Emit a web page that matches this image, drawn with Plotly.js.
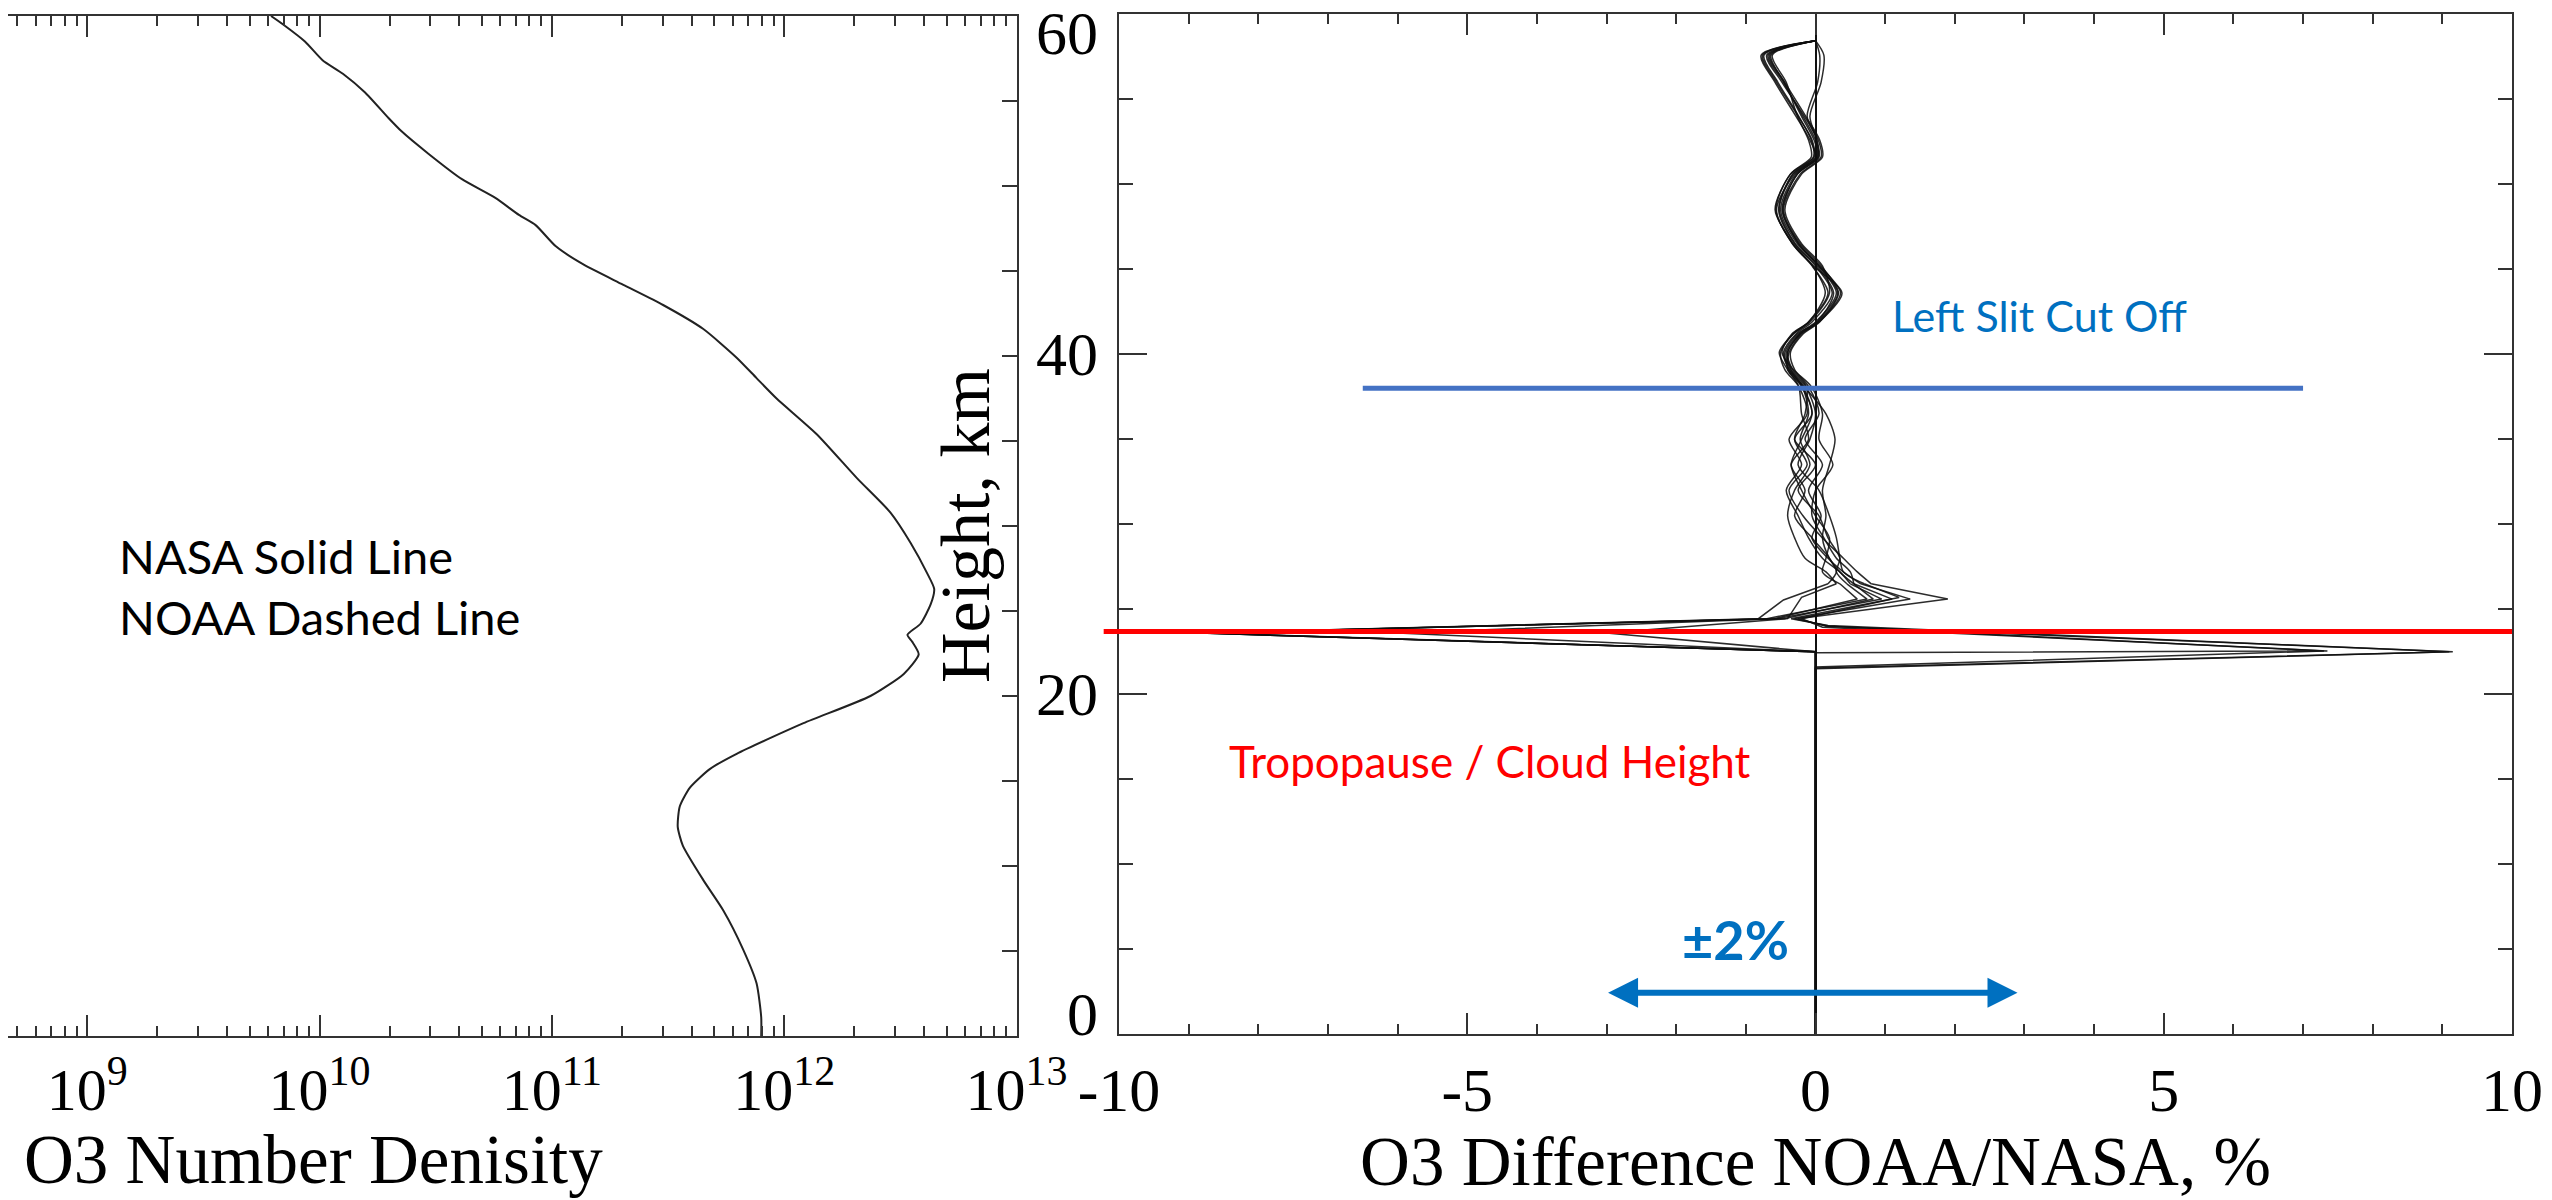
<!DOCTYPE html>
<html><head><meta charset="utf-8">
<script src="https://cdn.plot.ly/plotly-3.0.1.min.js"></script>
<style>html,body{margin:0;padding:0;background:#fff;} #chart{width:2552px;height:1200px;}</style>
</head><body><div id="chart"></div>
<script>
// ---------- Left panel: O3 number density profile (NASA) ----------
const nasaHeightKm = [0.0, 1.1, 3.1, 5.1, 7.4, 9.2, 11.2, 12.3, 13.5, 14.6, 15.7, 16.6, 18.4, 20.0, 21.3, 22.45, 23.2, 23.6, 24.25, 25.4, 26.3, 27.2, 29.0, 30.8, 32.8, 35.4, 37.5, 38.7, 39.9, 41.6, 43.0, 44.2, 45.4, 46.45, 47.7, 48.3, 49.3, 50.4, 51.9, 53.2, 54.0, 55.5, 56.6, 57.4, 58.5, 59.5, 60.0];
const nasaDensity = [7.96e11, 7.96e11, 7.60e11, 6.65e11, 5.46e11, 4.47e11, 3.66e11, 3.48e11, 3.55e11, 3.92e11, 4.78e11, 6.24e11, 1.21e12, 2.35e12, 3.27e12, 3.79e12, 3.55e12, 3.39e12, 3.86e12, 4.27e12, 4.42e12, 4.13e12, 3.50e12, 2.86e12, 2.06e12, 1.38e12, 9.27e11, 7.60e11, 6.24e11, 4.47e11, 3.01e11, 2.02e11, 1.36e11, 1.04e11, 8.51e10, 7.21e10, 5.71e10, 4.10e10, 2.94e10, 2.26e10, 1.98e10, 1.57e10, 1.26e10, 1.03e10, 8.65e9, 6.97e9, 6.18e9];

// ---------- Right panel: O3 difference NOAA/NASA (%) for several runs ----------
const diffUpperKm = [58.45, 57.6, 56.0, 54.0, 52.6, 51.6, 50.6, 48.5, 46.5, 45.2, 43.6, 41.9, 41.2, 40.1, 39.1, 38.1, 36.5, 35.0, 33.5, 32.0, 30.5, 29.2, 28.0, 27.2];
const runUpperPct = [
  [0, -0.78, -0.58, -0.28, -0.08, 0.00, -0.30, -0.56, -0.33, -0.03, 0.38, 0.05, -0.20, -0.38, -0.40, -0.20, -0.05, -0.30, -0.12, -0.38, -0.18, 0.10, 0.40, 0.60],
  [0, -0.70, -0.48, -0.16, 0.04, 0.08, -0.22, -0.46, -0.22, 0.08, 0.33, 0.06, -0.18, -0.36, -0.30, -0.10, 0.05, -0.15, 0.10, -0.10, 0.08, -0.05, 0.18, 0.40],
  [0, -0.66, -0.44, -0.14, 0.06, 0.10, -0.20, -0.44, -0.20, 0.10, 0.20, -0.08, -0.32, -0.50, -0.44, -0.24, -0.12, -0.38, -0.20, -0.42, -0.25, -0.10, 0.10, 0.35],
  [0, -0.62, -0.42, -0.26, -0.10, -0.06, -0.36, -0.58, -0.32, -0.04, 0.14, -0.10, -0.34, -0.48, -0.32, -0.06, 0.10, 0.05, 0.25, 0.00, -0.05, 0.12, 0.30, 0.50],
  [0, 0.12, 0.08, -0.08, 0.02, 0.05, -0.26, -0.47, -0.24, 0.06, 0.36, 0.04, -0.22, -0.40, -0.33, -0.13, -0.15, -0.30, 0.00, -0.25, 0.05, 0.18, 0.35, 0.30],
  [0, -0.74, -0.54, -0.24, -0.06, -0.03, -0.36, -0.57, -0.33, -0.05, 0.18, -0.10, -0.32, -0.52, -0.40, -0.24, -0.20, -0.10, -0.35, -0.15, -0.30, -0.05, 0.20, 0.30],
  [0, -0.68, -0.46, -0.18, 0.00, 0.04, -0.26, -0.48, -0.24, 0.04, 0.30, 0.00, -0.24, -0.42, -0.36, -0.16, 0.15, 0.28, 0.20, 0.10, 0.15, 0.10, 0.20, 0.35],
  [0, 0.06, 0.03, -0.12, 0.02, 0.02, -0.32, -0.52, -0.29, 0.02, 0.26, 0.02, -0.26, -0.44, -0.38, -0.18, -0.05, -0.20, -0.35, -0.20, 0.00, 0.20, 0.15, 0.10],
  [0, -0.76, -0.56, -0.25, -0.05, -0.02, -0.33, -0.53, -0.30, 0.00, 0.24, -0.05, -0.28, -0.46, -0.38, -0.19, -0.10, -0.22, -0.08, -0.30, -0.40, -0.30, -0.15, 0.15],
  [0, -0.64, -0.45, -0.20, -0.02, 0.03, -0.28, -0.50, -0.26, 0.05, 0.32, 0.03, -0.22, -0.40, -0.35, -0.14, 0.00, -0.08, -0.25, 0.05, 0.20, 0.30, 0.35, 0.40]
];
const runLowerKm = [
  [26.5, 25.6, 24.45, 24.0, 22.5, 21.55, 0],
  [26.5, 25.6, 24.45, 24.0, 22.55, 21.6, 0],
  [26.5, 25.6, 24.45, 23.6, 22.5, 0],
  [26.5, 25.6, 24.45, 23.6, 22.5, 0],
  [26.5, 25.6, 24.45, 23.6, 22.5, 0],
  [26.5, 25.55, 24.45, 23.6, 22.5, 0],
  [26.5, 25.6, 24.45, 23.95, 22.55, 22.45, 0],
  [26.5, 25.6, 24.45, 23.6, 22.5, 0],
  [26.5, 25.7, 24.45, 23.6, 22.5, 0],
  [26.5, 25.7, 24.45, 24.05, 22.5, 21.5, 0]
];
const runLowerPct = [
  [0.80, 1.90, -0.25, 0.15, 9.15, 0, 0],
  [0.65, 1.36, -0.30, 0.20, 7.30, 0, 0],
  [0.50, 0.95, -0.55, -8.85, 0, 0],
  [0.55, 0.83, -0.45, -8.80, 0, 0],
  [0.45, 0.74, -0.70, -8.70, 0, 0],
  [0.18, -0.46, -0.82, -8.85, 0, 0],
  [0.55, 1.10, -0.20, 0.10, 7.35, 0, 0],
  [0.35, 0.60, -0.60, -6.00, 0, 0],
  [0.30, -0.20, -0.40, -3.00, 0, 0],
  [0.70, 1.20, -0.35, 0.18, 9.10, 0, 0]
];

// ---------- Ticks and reference markers ----------
const densityTickVals = [1e9, 1e10, 1e11, 1e12, 1e13];
const densityTickText = ['10<sup>9</sup>', '10<sup>10</sup>', '10<sup>11</sup>', '10<sup>12</sup>', '10<sup>13</sup>'];
const diffTickVals = [-10, -5, 0, 5, 10];
const diffTickText = ['-10', '-5', '0', '5', '10'];
const heightTickVals = [0, 20, 40, 60];
const heightTickText = ['0', '20', '40', '60'];
const tropopauseKm = 23.7;
const slitCutoffKm = 38.0;
const slitCutoffPct = [-6.5, 7.0];
const rangeArrowPct = [-3.0, 2.9];
const rangeArrowKm = 2.45;

// ---------- Build ----------
const W = 2552, H = 1200;
const px = v => v / W;
const py = v => 1 - v / H;
const AX = '#333';
const serif = 'Liberation Serif, Times New Roman, serif';
const sans = 'Lato, Carlito, Calibri, sans-serif';
// end labels are nudged inside the frame, as in the original figure
const heightLabelShift = [20, 0, 0, -19];

const traces = [{
  x: nasaDensity, y: nasaHeightKm, xaxis: 'x', yaxis: 'y', mode: 'lines',
  line: {color: '#222', width: 2, shape: 'spline', smoothing: 0.6}, hoverinfo: 'skip'
}];
const runLine = {color: 'rgba(15,15,15,0.88)', width: 1.5};
runUpperPct.forEach((up, i) => {
  traces.push({
    x: up.concat(runLowerPct[i].slice(0, 1)), y: diffUpperKm.concat(runLowerKm[i].slice(0, 1)),
    xaxis: 'x2', yaxis: 'y2', mode: 'lines',
    line: Object.assign({shape: 'spline', smoothing: 0.8}, runLine), hoverinfo: 'skip'
  });
  traces.push({
    x: runLowerPct[i], y: runLowerKm[i],
    xaxis: 'x2', yaxis: 'y2', mode: 'lines',
    line: Object.assign({shape: 'linear'}, runLine), hoverinfo: 'skip'
  });
});

const annotations = [
  {xref: 'paper', yref: 'paper', x: px(117), y: py(586), xanchor: 'left', yanchor: 'middle', align: 'left',
   text: 'NASA Solid Line<br>NOAA Dashed Line', showarrow: false, font: {family: sans, size: 47, color: '#000'}},
  {xref: 'paper', yref: 'paper', x: px(22), y: py(1160), xanchor: 'left', yanchor: 'middle',
   text: 'O3 Number Denisity', showarrow: false, font: {family: serif, size: 69, color: '#000'}},
  {xref: 'paper', yref: 'paper', x: px(965), y: py(526), xanchor: 'center', yanchor: 'middle', textangle: -90,
   text: 'Height, km', showarrow: false, font: {family: serif, size: 70, color: '#000'}},
  {xref: 'x2', yref: 'y2', x: 3.22, y: 42.3, text: 'Left Slit Cut Off', showarrow: false,
   font: {family: sans, size: 43, color: '#0070C0'}},
  {xref: 'x2', yref: 'y2', x: -4.67, y: 16.1, text: 'Tropopause / Cloud Height', showarrow: false,
   font: {family: sans, size: 44, color: '#FF0000'}},
  {xref: 'x2', yref: 'y2', x: -1.15, y: 5.6, text: '<b>±2%</b>', showarrow: false,
   font: {family: sans, size: 54, color: '#0070C0'}},
  {xref: 'x2', yref: 'y2', x: rangeArrowPct[1], y: rangeArrowKm, axref: 'x2', ayref: 'y2',
   ax: rangeArrowPct[0], ay: rangeArrowKm, text: '', showarrow: true, arrowside: 'end+start',
   arrowhead: 2, startarrowhead: 2, arrowsize: 1, startarrowsize: 1, arrowwidth: 6,
   arrowcolor: '#0070C0', standoff: 0, startstandoff: 0}
];
heightTickVals.forEach((v, i) => {
  annotations.push({
    xref: 'paper', yref: 'y2', x: px(1100), y: v, xanchor: 'right', yanchor: 'middle',
    yshift: heightLabelShift[i], text: heightTickText[i], showarrow: false,
    font: {family: serif, size: 62, color: '#000'}
  });
});

const layout = {
  width: W, height: H, margin: {l: 0, r: 0, t: 0, b: 0},
  paper_bgcolor: '#fff', plot_bgcolor: 'rgba(0,0,0,0)', showlegend: false,
  font: {family: serif, color: '#000'},
  xaxis: {
    type: 'log', domain: [px(8), px(1016.7)], range: [8.659, 13.0005], anchor: 'y',
    tickmode: 'array', tickvals: densityTickVals, ticktext: densityTickText,
    tickfont: {family: serif, size: 60, color: '#000'}, ticklabelstandoff: 0,
    ticks: 'inside', ticklen: 21, tickwidth: 2, tickcolor: AX,
    minor: {ticks: 'inside', ticklen: 10, tickwidth: 2, tickcolor: AX, dtick: 'D1', showgrid: false},
    showline: true, linecolor: AX, linewidth: 2, mirror: 'ticks', showgrid: false, zeroline: false
  },
  yaxis: {
    domain: [py(1036), py(16)], range: [0, 60], anchor: 'x', side: 'right',
    showline: true, linecolor: AX, linewidth: 2,
    ticks: 'inside', ticklen: 15, tickwidth: 2, tickcolor: AX, tick0: 0, dtick: 5,
    showticklabels: false, showgrid: false, zeroline: false
  },
  xaxis2: {
    domain: [px(1119), px(2512)], range: [-10, 10], anchor: 'y2',
    tickmode: 'array', tickvals: diffTickVals, ticktext: diffTickText,
    tickfont: {family: serif, size: 62, color: '#000'}, ticklabelstandoff: 0,
    ticks: 'inside', ticklen: 21, tickwidth: 2, tickcolor: AX,
    minor: {ticks: 'inside', ticklen: 10, tickwidth: 2, tickcolor: AX, tick0: 0, dtick: 1, showgrid: false},
    showline: true, linecolor: AX, linewidth: 2, mirror: 'ticks', showgrid: false,
    zeroline: true, zerolinecolor: '#111', zerolinewidth: 2,
    title: {text: 'O3 Difference NOAA/NASA, %', font: {family: serif, size: 69, color: '#000'}, standoff: 40}
  },
  yaxis2: {
    domain: [py(1034.3), py(14.3)], range: [0, 60], anchor: 'x2',
    tickmode: 'array', tickvals: heightTickVals, ticktext: heightTickText, showticklabels: false,
    ticks: 'inside', ticklen: 28, tickwidth: 2, tickcolor: AX,
    minor: {ticks: 'inside', ticklen: 14, tickwidth: 2, tickcolor: AX, tick0: 0, dtick: 5, showgrid: false},
    showline: true, linecolor: AX, linewidth: 2, mirror: 'ticks', showgrid: false, zeroline: false
  },
  shapes: [
    {type: 'line', layer: 'above', xref: 'x2 domain', yref: 'y2', x0: -0.011, x1: 1, y0: tropopauseKm, y1: tropopauseKm,
     line: {color: '#FF0000', width: 5}},
    {type: 'line', layer: 'above', xref: 'x2', yref: 'y2', x0: slitCutoffPct[0], x1: slitCutoffPct[1], y0: slitCutoffKm, y1: slitCutoffKm,
     line: {color: '#4472C4', width: 5}}
  ],
  annotations: annotations
};

Plotly.newPlot('chart', traces, layout, {displayModeBar: false, staticPlot: true});
</script>
</body></html>
